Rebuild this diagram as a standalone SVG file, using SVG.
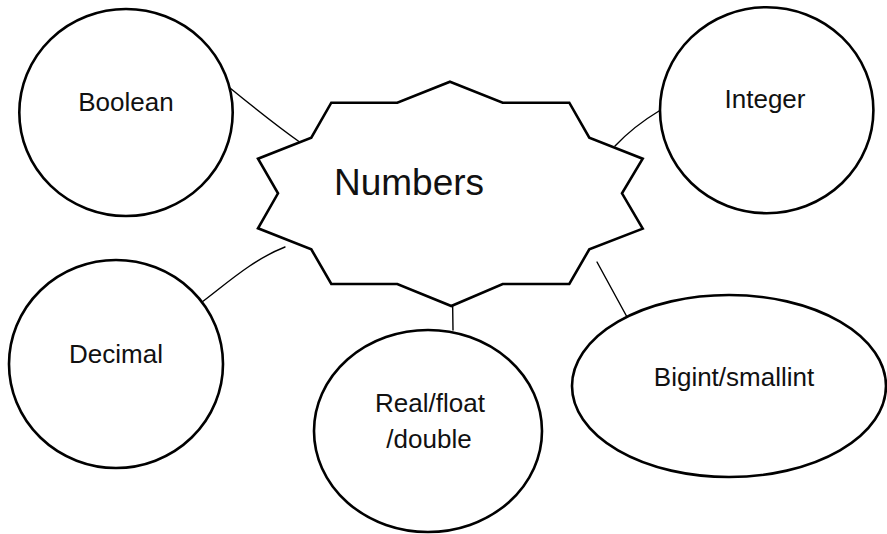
<svg xmlns="http://www.w3.org/2000/svg" width="887" height="534" viewBox="0 0 887 534">
  <style>
    .shape { fill: #ffffff; stroke: #000000; stroke-width: 2.6; stroke-linejoin: miter; }
    .label { font-family: "Liberation Sans", Arial, sans-serif; font-size: 26px; fill: #111111; text-anchor: middle; }
    .title { font-family: "Liberation Sans", Arial, sans-serif; font-size: 37px; fill: #111111; }
    .link { fill: none; stroke: #000000; stroke-width: 1.4; stroke-linecap: round; }
  </style>
  <rect width="887" height="534" fill="#ffffff"/>

  <g id="connectors">
    <path class="link" d="M230,88 C252,106 274,124 301,143 L302,148"/>
    <path class="link" d="M659,111 Q634,126 615,146"/>
    <path class="link" d="M202,302 C226,284 252,260 285,247"/>
    <path class="link" d="M452.5,295 L453,330"/>
    <path class="link" d="M597,262 L627,317"/>
  </g>

  <g id="numbers">
    <polygon class="shape" points="450,81.7 502.7,102.7 569.3,102.7 589.3,137.7 642.7,158.7 622,193.3 642.7,228.7 589.3,249.3 569.3,284 502.7,284 451.3,306 397.3,284 331.3,284 311.3,249.3 258,228.3 278,193.3 258,158.7 311.3,137.7 331.3,102.7 397.3,102.7"/>
    <text class="title" x="334" y="195">Numbers</text>
  </g>

  <g id="boolean">
    <ellipse class="shape" cx="126" cy="112.5" rx="106.7" ry="103.5"/>
    <text class="label" x="126" y="110.7">Boolean</text>
  </g>

  <g id="integer">
    <ellipse class="shape" cx="766.7" cy="110.2" rx="106.7" ry="103"/>
    <text class="label" x="765" y="108.3">Integer</text>
  </g>

  <g id="decimal">
    <ellipse class="shape" cx="116" cy="364" rx="107" ry="104"/>
    <text class="label" x="116" y="362.7">Decimal</text>
  </g>

  <g id="real-float-double">
    <ellipse class="shape" cx="428" cy="431" rx="114" ry="101"/>
    <text class="label" x="430" y="411.7">Real/float</text>
    <text class="label" x="429" y="448">/double</text>
  </g>

  <g id="bigint-smallint">
    <ellipse class="shape" cx="729" cy="386" rx="157" ry="91"/>
    <text class="label" x="734" y="386">Bigint/smallint</text>
  </g>
</svg>
